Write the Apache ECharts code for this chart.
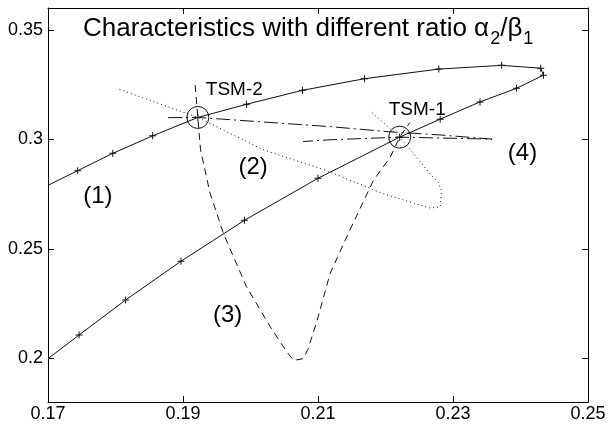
<!DOCTYPE html>
<html>
<head>
<meta charset="utf-8">
<script src="https://cdn.jsdelivr.net/npm/echarts@6/dist/echarts.min.js"></script>
<style>
  html, body { margin: 0; padding: 0; background: #fff; }
  #chart { width: 613px; height: 426px; }
</style>
</head>
<body>
<div id="chart"></div>
<script>
// axis ticks
const xTicks = [0.17, 0.19, 0.21, 0.23, 0.25]
const yTicks = [0.2, 0.25, 0.3, 0.35]

// operating points
const tsm2 = [0.1922, 0.3100]
const tsm1 = [0.2221, 0.3010]

// (1) solid curve with + markers (upper branch, then back along the lower one)
const curve1 = [
  [0.17, 0.2790], [0.1744, 0.2857], [0.1796, 0.2936], [0.1855, 0.3016], tsm2,
  [0.1994, 0.3160], [0.2077, 0.3224], [0.2169, 0.3277], [0.2279, 0.3321],
  [0.2372, 0.3338], [0.2430, 0.3325], [0.2434, 0.3293], [0.2394, 0.3233],
  [0.2340, 0.3171], [0.2281, 0.3092], tsm1, [0.2100, 0.2822], [0.1991, 0.2630],
  [0.1897, 0.2443], [0.1815, 0.2266], [0.1746, 0.2106], [0.17, 0.1998]
]
// (2) dotted
const curve2 = [
  [0.1806, 0.3228], tsm2, [0.2019, 0.2952], [0.2113, 0.2857], [0.2197, 0.2751],
  [0.2266, 0.2686], [0.2281, 0.2691], [0.2283, 0.2766], [0.2278, 0.2804],
  [0.2266, 0.2842], [0.2246, 0.2918], tsm1, [0.2177, 0.3130]
]
// (3) dashed
const curve3 = [
  [0.1918, 0.3248], tsm2, [0.1926, 0.2952], [0.1940, 0.2755], [0.1960, 0.2569],
  [0.1994, 0.2327], [0.2029, 0.2145], [0.2054, 0.2028], [0.2064, 0.1990],
  [0.2078, 0.1998], [0.2085, 0.2040], [0.2098, 0.2165], [0.2118, 0.2388],
  [0.2147, 0.2584], [0.2182, 0.2812], [0.2207, 0.2918], tsm1, [0.2236, 0.3077]
]
// (4) dash-dot
const curve4 = [
  [0.1878, 0.3099], tsm2, [0.2118, 0.3058], [0.2204, 0.3035], [0.2281, 0.3020],
  [0.2358, 0.3001], [0.2281, 0.3006], tsm1, [0.2118, 0.2998], [0.2078, 0.2990]
]

// text labels: [x, y, text]
const curveLabels = [
  [0.1774, 0.2739, '(1)'],
  [0.2004, 0.2870, '(2)'],
  [0.1966, 0.2198, '(3)'],
  [0.2403, 0.2934, '(4)']
]
const pointLabels = [
  [0.1976, 0.3225, 'TSM-2'],
  [0.2247, 0.3136, 'TSM-1']
]

const FONT = 'Liberation Sans'
const INK = '#111'
const plus = 'path://M6,0L8,0L8,6L14,6L14,8L8,8L8,14L6,14L6,8L0,8L0,6L6,6Z'

function fmt (v) {
  return String(+v.toFixed(3))
}

const chart = echarts.init(document.getElementById('chart'), null, { renderer: 'canvas' })

const option = {
  animation: false,
  backgroundColor: '#fff',
  title: {
    text: '{t|Characteristics with different ratio α}{s|2}{t|/β}{s|1}',
    left: 83,
    top: 10,
    padding: 0,
    textStyle: {
      fontWeight: 'normal',
      rich: {
        t: { fontSize: 26, fontFamily: FONT, fontWeight: 'normal', color: '#000' },
        s: { fontSize: 18, fontFamily: FONT, fontWeight: 'normal', color: '#000', padding: [20, 0, 0, 1] }
      }
    }
  },
  grid: { left: 48, right: 25, top: 8, bottom: 24, containLabel: false },
  xAxis: [
    {
      type: 'value', min: 0.17, max: 0.25, interval: 0.02,
      axisLine: { lineStyle: { color: '#000', width: 1 } },
      axisTick: { inside: true, length: 6, lineStyle: { color: '#000' } },
      splitLine: { show: false },
      axisLabel: { color: '#000', fontSize: 18, fontFamily: FONT, margin: 3, formatter: fmt }
    },
    {
      type: 'value', position: 'top', min: 0.17, max: 0.25, interval: 0.02,
      axisLine: { lineStyle: { color: '#000', width: 1 } },
      axisTick: { inside: true, length: 6, lineStyle: { color: '#000' } },
      splitLine: { show: false },
      axisLabel: { show: false }
    }
  ],
  yAxis: [
    {
      type: 'value', min: 0.18, max: 0.36, interval: 0.01,
      axisLine: { show: true, lineStyle: { color: '#000', width: 1 } },
      axisTick: { inside: true, length: 6, lineStyle: { color: '#000' }, customValues: yTicks },
      splitLine: { show: false },
      axisLabel: { color: '#000', fontSize: 18, fontFamily: FONT, margin: 5, formatter: fmt, customValues: yTicks }
    },
    {
      type: 'value', position: 'right', min: 0.18, max: 0.36, interval: 0.01,
      axisLine: { show: true, lineStyle: { color: '#000', width: 1 } },
      axisTick: { inside: true, length: 6, lineStyle: { color: '#000' }, customValues: yTicks },
      splitLine: { show: false },
      axisLabel: { show: false }
    }
  ],
  series: [
    {
      name: 'curve1',
      type: 'line',
      data: curve1.map(p => ({ value: p, symbol: p[0] === 0.17 ? 'none' : plus })),
      symbolSize: 7,
      showAllSymbol: true,
      itemStyle: { color: INK },
      lineStyle: { color: INK, width: 1 },
      clip: true
    },
    {
      name: 'curve2',
      type: 'line',
      data: curve2,
      showSymbol: false,
      lineStyle: { color: INK, width: 1, type: [1, 3] }
    },
    {
      name: 'curve3',
      type: 'line',
      data: curve3,
      showSymbol: false,
      lineStyle: { color: INK, width: 1, type: [7, 5] }
    },
    {
      name: 'curve4',
      type: 'line',
      data: curve4,
      showSymbol: false,
      lineStyle: { color: INK, width: 1, type: [14, 4, 2, 4] }
    },
    {
      name: 'tsm',
      type: 'scatter',
      data: [tsm2, tsm1],
      symbol: 'circle',
      symbolSize: 22,
      itemStyle: { color: 'rgba(0,0,0,0)', borderColor: INK, borderWidth: 1, opacity: 1 },
      z: 5
    },
    {
      name: 'pointLabels',
      type: 'scatter',
      data: pointLabels.map(d => ({ value: [d[0], d[1]], name: d[2] })),
      symbolSize: 0,
      itemStyle: { opacity: 1 },
      label: {
        show: true, position: 'inside', formatter: '{b}',
        color: '#000', fontSize: 19, fontFamily: FONT
      },
      silent: true
    },
    {
      name: 'curveLabels',
      type: 'scatter',
      data: curveLabels.map(d => ({ value: [d[0], d[1]], name: d[2] })),
      symbolSize: 0,
      itemStyle: { opacity: 1 },
      label: {
        show: true, position: 'inside', formatter: '{b}',
        color: '#000', fontSize: 24, fontFamily: FONT
      },
      silent: true
    }
  ]
}

chart.setOption(option)
</script>
</body>
</html>
